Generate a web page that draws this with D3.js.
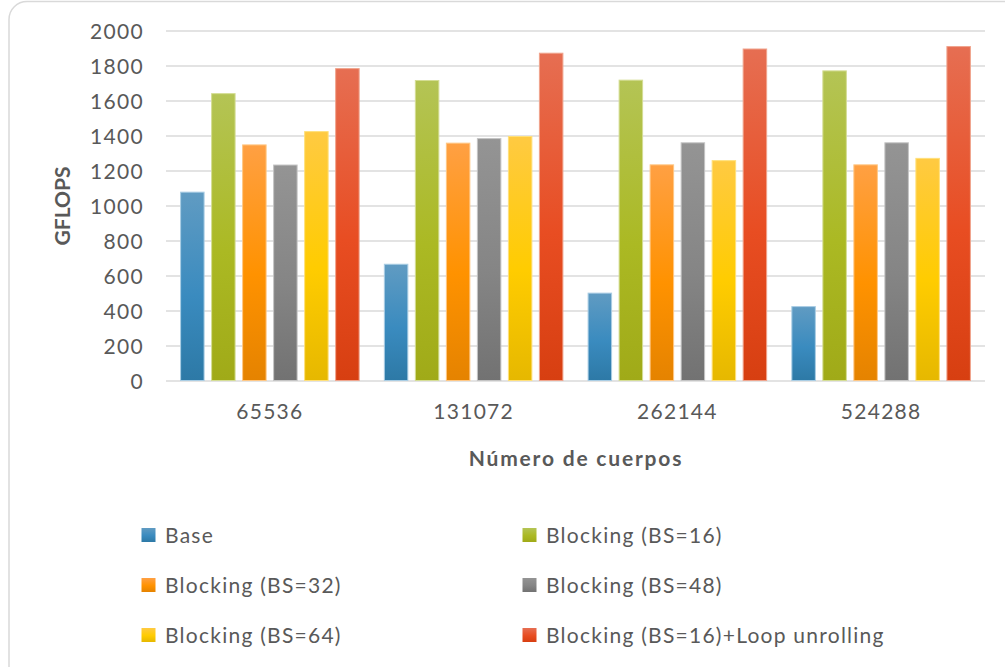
<!DOCTYPE html>
<html>
<head>
<meta charset="utf-8">
<script src="https://cdn.jsdelivr.net/npm/d3@7/dist/d3.min.js"></script>
<style>
html,body{margin:0;padding:0;background:#fff;}
svg{display:block;}
text{font-family:Lato,"Open Sans",sans-serif;fill:#595959;}
</style>
</head>
<body>
<svg id="chart" width="1005" height="667"></svg>
<script>
const categories = ["65536", "131072", "262144", "524288"];
const seriesNames = ["Base", "Blocking (BS=16)", "Blocking (BS=32)", "Blocking (BS=48)", "Blocking (BS=64)", "Blocking (BS=16)+Loop unrolling"];
const base      = [1082, 670, 505, 428];
const bs16      = [1645, 1720, 1722, 1775];
const bs32      = [1352, 1362, 1238, 1238];
const bs48      = [1237, 1388, 1364, 1364];
const bs64      = [1428, 1400, 1262, 1275];
const bs16Loop  = [1788, 1876, 1900, 1914];
const yTicks = [0, 200, 400, 600, 800, 1000, 1200, 1400, 1600, 1800, 2000];

const seriesValues = [base, bs16, bs32, bs48, bs64, bs16Loop];
const colorStops = [
  ["#609bc2", "#3a8bbf", "#2d79a6"],
  ["#b4c455", "#abb923", "#a0aa18"],
  ["#ffa043", "#ff9200", "#e58300"],
  ["#949494", "#858585", "#727272"],
  ["#ffca42", "#ffcc00", "#e6b800"],
  ["#e66e52", "#e84d22", "#d73f11"]
];
const borderColors = ["#a9cde4", "#d4dd94", "#ffc784", "#c4c4c4", "#ffe07a", "#f0a48d"];

const svg = d3.select("#chart");
const defs = svg.append("defs");
colorStops.forEach((c, i) => {
  const g = defs.append("linearGradient").attr("id", "grad" + i)
    .attr("x1", 0).attr("y1", 0).attr("x2", 0).attr("y2", 1);
  g.append("stop").attr("offset", "0%").attr("stop-color", c[0]);
  g.append("stop").attr("offset", "55%").attr("stop-color", c[1]);
  g.append("stop").attr("offset", "100%").attr("stop-color", c[2]);
});

// chart frame
svg.append("rect").attr("x", 9).attr("y", 1.5).attr("width", 1060).attr("height", 720)
  .attr("rx", 18).attr("fill", "none").attr("stroke", "#d9d9d9").attr("stroke-width", 1.5);

const x0 = d3.scaleBand().domain(categories).range([168, 983]).paddingInner(0).paddingOuter(0);
const x1 = d3.scaleBand().domain(seriesNames).range([0, x0.bandwidth()]).paddingInner(0.21).paddingOuter(0.39);
const y = d3.scaleLinear().domain([0, 2000]).range([381, 31]);

// gridlines
svg.append("g").selectAll("line").data(yTicks).join("line")
  .attr("x1", 166).attr("x2", 985)
  .attr("y1", d => y(d)).attr("y2", d => y(d))
  .attr("stroke", "#e3e3e3").attr("stroke-width", 2);

// y axis labels
const yAxis = d3.axisLeft(y).tickValues(yTicks).tickSize(0).tickPadding(0).tickFormat(d3.format("d"));
const yg = svg.append("g").attr("transform", "translate(144,0)").call(yAxis);
yg.select(".domain").remove();
yg.selectAll("text").style("font-size", "21px").style("letter-spacing", "1.3px").attr("fill", "#595959").attr("dy", "0.36em");

// x axis labels
const xAxis = d3.axisBottom(x0).tickSize(0).tickPadding(0);
const xg = svg.append("g").attr("transform", "translate(0,404)").call(xAxis);
xg.select(".domain").remove();
xg.selectAll("text").style("font-size", "21px").style("letter-spacing", "1.3px").attr("fill", "#595959").attr("dy", "0.71em");

// bars
seriesValues.forEach((vals, si) => {
  svg.append("g").selectAll("rect").data(vals).join("rect")
    .attr("x", (d, i) => x0(categories[i]) + x1(seriesNames[si]) + 0.5)
    .attr("y", d => y(d) + 0.5)
    .attr("width", x1.bandwidth() - 1)
    .attr("height", d => y(0) - y(d) - 1)
    .attr("fill", "url(#grad" + si + ")")
    .attr("stroke", borderColors[si]).attr("stroke-width", 1);
});

// axis titles
svg.append("text").attr("x", 576).attr("y", 466).attr("text-anchor", "middle")
  .style("font-size", "21px").style("font-weight", "bold").style("letter-spacing", "1.8px").text("Número de cuerpos");
svg.append("text").attr("transform", "translate(70,206) rotate(-90)").attr("text-anchor", "middle")
  .style("font-size", "21px").style("font-weight", "bold").text("GFLOPS");

// legend
const legendPos = [[141, 535], [522, 535], [141, 585], [522, 585], [141, 635], [522, 635]];
seriesNames.forEach((name, i) => {
  const g = svg.append("g").attr("transform", `translate(${legendPos[i][0]},${legendPos[i][1]})`);
  g.append("rect").attr("x", 0.5).attr("y", -7).attr("width", 14).attr("height", 14)
    .attr("fill", "url(#grad" + i + ")");
  g.append("text").attr("x", 24).attr("y", 0).attr("dy", "0.36em")
    .style("font-size", "21px").style("letter-spacing", "1.25px").text(name);
});
</script>
</body>
</html>
